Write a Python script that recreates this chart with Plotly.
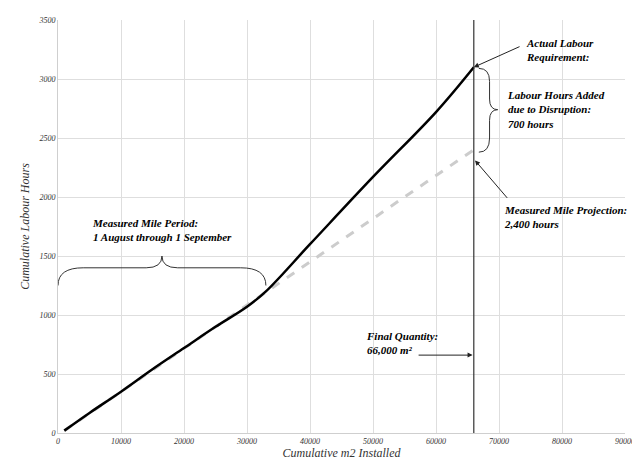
import plotly.graph_objects as go

actual_x = [1000, 5000, 10000, 15000, 20000, 25000, 30000, 33000, 40000, 50000, 60000, 66000]
actual_y = [20, 170, 350, 540, 720, 900, 1070, 1200, 1600, 2170, 2720, 3100]
proj_x = [1000, 10000, 20000, 33000, 45000, 55000, 66000]
proj_y = [20, 350, 720, 1200, 1640, 2000, 2400]
final_qty = 66000

F = "Liberation Serif"
fig = go.Figure()
fig.add_trace(go.Scatter(x=proj_x, y=proj_y, mode="lines",
                         line=dict(color="#cccccc", width=3, dash="dash")))
fig.add_trace(go.Scatter(x=actual_x, y=actual_y, mode="lines", line_shape="spline",
                         line=dict(color="black", width=2.5)))
fig.add_vline(x=final_qty, line=dict(color="#333", width=1.2))
fig.add_shape(type="path", xref="x", yref="y", line=dict(color="#333", width=1),
              path="M 0,1250 Q 0,1400 4000,1400 L 14000,1400 Q 16500,1400 16500,1500 Q 16500,1400 19000,1400 L 29000,1400 Q 33000,1400 33000,1250")
fig.add_shape(type="path", xref="x", yref="y", line=dict(color="#333", width=1),
              path="M 66800,3090 Q 68500,3090 68500,2980 L 68500,2830 Q 68500,2740 69800,2740 Q 68500,2740 68500,2650 L 68500,2500 Q 68500,2380 66800,2380")
def ann(x, y, t, **k):
    fig.add_annotation(x=x, y=y, text=t, showarrow=False, xanchor="left", align="left",
                       font=dict(family=F, size=11, color="black"), **k)
ann(74000, 3250, "<b><i>Actual Labour<br>Requirement:</i></b>", yanchor="middle")
ann(71000, 2740, "<b><i>Labour Hours Added<br>due to Disruption:<br>700 hours</i></b>")
ann(70500, 1830, "<b><i>Measured Mile Projection:<br>2,400 hours</i></b>")
ann(5000, 1720, "<b><i>Measured Mile Period:<br>1 August through 1 September</i></b>")
ann(48500, 760, "<b><i>Final Quantity:<br>66,000 m²</i></b>")
fig.add_annotation(x=66000, y=3100, ax=73500, ay=3280, xref="x", yref="y", axref="x", ayref="y",
                   text="", showarrow=True, arrowhead=2, arrowsize=1, arrowwidth=1, arrowcolor="#222")
fig.add_annotation(x=66200, y=2310, ax=71500, ay=1980, xref="x", yref="y", axref="x", ayref="y",
                   text="", showarrow=True, arrowhead=2, arrowsize=1, arrowwidth=1, arrowcolor="#222")
fig.add_annotation(x=65800, y=660, ax=57000, ay=660, xref="x", yref="y", axref="x", ayref="y",
                   text="", showarrow=True, arrowhead=2, arrowsize=1, arrowwidth=1, arrowcolor="#222")

tf = dict(family=F, size=8, color="#333", style="italic")
ax_common = dict(showgrid=True, gridcolor="#dedede", zeroline=False, showline=True,
                 linecolor="#cfcfcf", tickfont=tf, automargin=False)
fig.update_xaxes(range=[0, 90000], dtick=10000, tickformat="d",
                 title=dict(text="<i>Cumulative m2 Installed</i>", font=dict(family=F, size=12, color="#333"), standoff=4),
                 **ax_common)
fig.update_yaxes(range=[0, 3500], dtick=500, tickformat="d",
                 title=dict(text="<i>Cumulative Labour Hours</i>", font=dict(family=F, size=12, color="#333"), standoff=6),
                 **ax_common)
fig.update_layout(width=640, height=467, showlegend=False, plot_bgcolor="white", paper_bgcolor="white",
                  margin=dict(l=50, r=23, t=12, b=42))
fig.write_html("out.html")
